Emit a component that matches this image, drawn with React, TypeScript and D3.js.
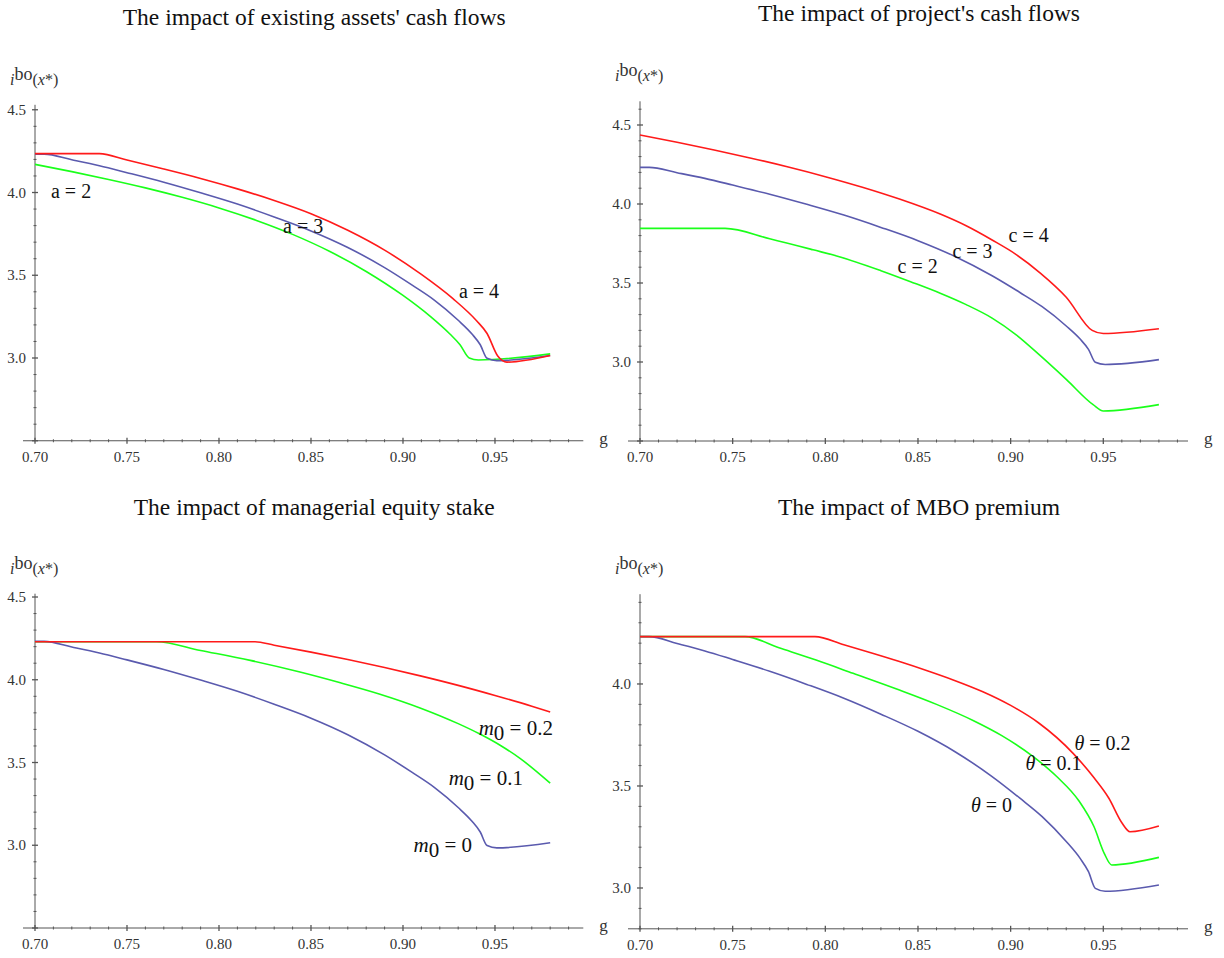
import React from "react";
import * as d3 from "d3";

type Pt = [number, number];

// ---------- data (g, i^bo(x*)) ----------
const G_TICKS = [0.7, 0.75, 0.8, 0.85, 0.9, 0.95];
const Y_TICKS_A = [3.0, 3.5, 4.0, 4.5];
const Y_TICKS_B = [3.0, 3.5, 4.0];

// baseline case (blue) shared by all four panels
const baseline: Pt[] = [
  [0.7, 4.232], [0.705, 4.232], [0.72, 4.198], [0.735, 4.162], [0.75, 4.12],
  [0.77, 4.062], [0.79, 3.998], [0.81, 3.93], [0.83, 3.852], [0.85, 3.768],
  [0.87, 3.668], [0.89, 3.546], [0.905, 3.44], [0.917, 3.35], [0.93, 3.228],
  [0.9375, 3.145], [0.942, 3.08], [0.9457, 2.998], [0.951, 2.984], [0.98, 3.015],
];

// panel 1: existing assets' cash flows
const a4: Pt[] = [
  [0.7, 4.235], [0.735, 4.235], [0.75, 4.196], [0.77, 4.142], [0.79, 4.085],
  [0.81, 4.022], [0.83, 3.952], [0.85, 3.872], [0.87, 3.772], [0.89, 3.652],
  [0.91, 3.505], [0.927, 3.36], [0.94, 3.225], [0.9457, 3.148], [0.9516, 3.01],
  [0.9565, 2.975], [0.98, 3.015],
];
const a2: Pt[] = [
  [0.7, 4.17], [0.72, 4.126], [0.74, 4.079], [0.76, 4.028], [0.78, 3.971],
  [0.8, 3.907], [0.82, 3.833], [0.84, 3.747], [0.86, 3.645], [0.88, 3.523],
  [0.9, 3.378], [0.915, 3.25], [0.9255, 3.145], [0.931, 3.08], [0.936, 3.0],
  [0.941, 2.988], [0.98, 3.025],
];

// panel 2: project's cash flows
const c4: Pt[] = [
  [0.7, 4.437], [0.72, 4.391], [0.74, 4.342], [0.76, 4.29], [0.78, 4.234],
  [0.8, 4.173], [0.82, 4.106], [0.84, 4.031], [0.862, 3.936], [0.876, 3.862],
  [0.89, 3.772], [0.903, 3.68], [0.916, 3.563], [0.93, 3.41], [0.944, 3.2],
  [0.95, 3.18], [0.98, 3.21],
];
const c2: Pt[] = [
  [0.7, 3.846], [0.7459, 3.846], [0.77, 3.78], [0.7934, 3.71], [0.808, 3.665],
  [0.83, 3.578], [0.846, 3.508], [0.862, 3.435], [0.876, 3.363], [0.89, 3.278],
  [0.903, 3.172], [0.916, 3.04], [0.93, 2.89], [0.9445, 2.73], [0.95, 2.69],
  [0.98, 2.73],
];

// panel 3: managerial equity stake
const m02: Pt[] = [
  [0.7, 4.23], [0.8196, 4.23], [0.83, 4.209], [0.85, 4.167], [0.87, 4.122],
  [0.89, 4.074], [0.91, 4.022], [0.93, 3.966], [0.95, 3.905], [0.97, 3.84],
  [0.98, 3.805],
];
const m01: Pt[] = [
  [0.7, 4.23], [0.766, 4.23], [0.79, 4.177], [0.817, 4.117], [0.844, 4.047],
  [0.865, 3.985], [0.8875, 3.913], [0.91, 3.827], [0.93, 3.735], [0.9418, 3.672],
  [0.953, 3.603], [0.9636, 3.525], [0.98, 3.375],
];

// panel 4: MBO premium
const th02: Pt[] = [
  [0.7, 4.232], [0.7944, 4.232], [0.81, 4.192], [0.825, 4.152], [0.84, 4.11],
  [0.855, 4.065], [0.869, 4.02], [0.885, 3.962], [0.9, 3.895], [0.915, 3.81],
  [0.9337, 3.66], [0.945, 3.54], [0.953, 3.44], [0.96, 3.32], [0.9644, 3.276],
  [0.98, 3.304],
];
const th01: Pt[] = [
  [0.7, 4.232], [0.7567, 4.232], [0.775, 4.177], [0.795, 4.117], [0.815, 4.052],
  [0.84, 3.97], [0.86, 3.9], [0.88, 3.82], [0.895, 3.748], [0.912, 3.645],
  [0.925, 3.545], [0.937, 3.425], [0.945, 3.3], [0.9505, 3.17], [0.9545, 3.113],
  [0.98, 3.15],
];

const RED = "#ff1a1a";
const GREEN = "#1aff1a";
const BLUE = "#5a5aae";

type Label = { g: number; v: number; anchor: "start" | "middle" | "end"; kind: "plain" | "m0" | "theta"; text: string };

type PanelDef = {
  title: string;
  left: number; right: number; top: number; bottom: number;
  xDomain: [number, number]; yDomain: [number, number];
  yTicks: number[];
  series: { data: Pt[]; color: string }[];
  labels: Label[];
};

const panels: PanelDef[] = [
  {
    title: "The impact of existing assets' cash flows",
    left: 35, right: 583.3, top: 104.8, bottom: 440.75,
    xDomain: [0.7, 0.998], yDomain: [2.5, 4.53], yTicks: Y_TICKS_A,
    series: [{ data: a2, color: GREEN }, { data: baseline, color: BLUE }, { data: a4, color: RED }],
    labels: [
      { g: 0.7196, v: 3.967, anchor: "middle", kind: "plain", text: "a = 2" },
      { g: 0.8457, v: 3.755, anchor: "middle", kind: "plain", text: "a = 3" },
      { g: 0.9413, v: 3.363, anchor: "middle", kind: "plain", text: "a = 4" },
    ],
  },
  {
    title: "The impact of project's cash flows",
    left: 640, right: 1188, top: 101.3, bottom: 441,
    xDomain: [0.7, 0.9957], yDomain: [2.5, 4.65], yTicks: Y_TICKS_A,
    series: [{ data: c2, color: GREEN }, { data: baseline, color: BLUE }, { data: c4, color: RED }],
    labels: [
      { g: 0.9097, v: 3.759, anchor: "middle", kind: "plain", text: "c = 4" },
      { g: 0.8794, v: 3.658, anchor: "middle", kind: "plain", text: "c = 3" },
      { g: 0.8498, v: 3.563, anchor: "middle", kind: "plain", text: "c = 2" },
    ],
  },
  {
    title: "The impact of managerial equity stake",
    left: 35, right: 583.3, top: 593.7, bottom: 928,
    xDomain: [0.7, 0.998], yDomain: [2.5, 4.52], yTicks: Y_TICKS_A,
    series: [{ data: m01, color: GREEN }, { data: baseline, color: BLUE }, { data: m02, color: RED }],
    labels: [
      { g: 0.9815, v: 3.665, anchor: "end", kind: "m0", text: "0.2" },
      { g: 0.9652, v: 3.363, anchor: "end", kind: "m0", text: "0.1" },
      { g: 0.9375, v: 2.958, anchor: "end", kind: "m0", text: "0" },
    ],
  },
  {
    title: "The impact of MBO premium",
    left: 640, right: 1188, top: 594.2, bottom: 928.8,
    xDomain: [0.7, 0.9957], yDomain: [2.8, 4.44], yTicks: Y_TICKS_B,
    series: [{ data: th01, color: GREEN }, { data: baseline, color: BLUE }, { data: th02, color: RED }],
    labels: [
      { g: 0.9496, v: 3.676, anchor: "middle", kind: "theta", text: "0.2" },
      { g: 0.9231, v: 3.578, anchor: "middle", kind: "theta", text: "0.1" },
      { g: 0.8897, v: 3.373, anchor: "middle", kind: "theta", text: "0" },
    ],
  },
];

const SERIF = "'Liberation Serif', 'Times New Roman', serif";
const AXIS = "#555";
const TXT = "#333";

function Panel({ p }: { p: PanelDef }) {
  const x = d3.scaleLinear().domain(p.xDomain).range([p.left, p.right]);
  const y = d3.scaleLinear().domain(p.yDomain).range([p.bottom, p.top]);
  const line = d3.line<Pt>().x((d) => x(d[0])).y((d) => y(d[1])).curve(d3.curveMonotoneX);

  const xMinor = d3.range(Math.ceil(p.xDomain[0] * 100 - 1e-6), Math.floor(p.xDomain[1] * 100 + 1e-6) + 1).map((i) => i / 100);
  const yMinor = d3.range(Math.ceil(p.yDomain[0] * 10 - 1e-6), Math.floor(p.yDomain[1] * 10 + 1e-6) + 1).map((i) => i / 10);
  const fx = d3.format(".2f");
  const fy = d3.format(".1f");
  const axY = p.bottom;
  const axX = p.left;

  return (
    <g>
      <text x={(p.left + p.right) / 2 + 5} y={p.top - 79 + (p.top > 300 ? 0 : -1)} textAnchor="middle"
        fontFamily={SERIF} fontSize={23.5} fill="#111">{p.title}</text>

      {/* y-axis label i^bo(x*) */}
      <text x={axX - 25} y={p.top - 20} fontFamily={SERIF} fill={TXT}>
        <tspan fontStyle="italic" fontSize={16}>i</tspan>
        <tspan fontSize={18} dy={-5}>bo</tspan>
        <tspan fontSize={16} dy={5}>(</tspan>
        <tspan fontSize={16} fontStyle="italic">x</tspan>
        <tspan fontSize={16}>*)</tspan>
      </text>

      {/* axes */}
      <line x1={axX - 12} x2={p.right} y1={axY} y2={axY} stroke={AXIS} strokeWidth={1} />
      <line x1={axX} x2={axX} y1={axY} y2={p.top} stroke={AXIS} strokeWidth={1} />

      {xMinor.map((g) => {
        const major = Math.abs(g * 20 - Math.round(g * 20)) < 1e-6;
        return <line key={"xm" + g} x1={x(g)} x2={x(g)} y1={axY - (major ? 3 : 1.5)} y2={axY + (major ? 3 : 1.5)} stroke={AXIS} strokeWidth={major ? 1.3 : 1} />;
      })}
      {yMinor.map((v) => {
        const major = Math.abs(v * 2 - Math.round(v * 2)) < 1e-6;
        return <line key={"ym" + v} x1={axX - (major ? 3 : 1.5)} x2={axX + (major ? 3 : 1.5)} y1={y(v)} y2={y(v)} stroke={AXIS} strokeWidth={major ? 1.3 : 1} />;
      })}

      {G_TICKS.map((g) => (
        <text key={"xl" + g} x={x(g)} y={axY + 21} textAnchor="middle" fontFamily={SERIF} fontSize={15} fill={TXT}>{fx(g)}</text>
      ))}
      {p.yTicks.map((v) => (
        <text key={"yl" + v} x={axX - 9} y={y(v) + 5} textAnchor="end" fontFamily={SERIF} fontSize={15} fill={TXT}>{fy(v)}</text>
      ))}
      <text x={p.right + 16} y={axY + 3} fontFamily={SERIF} fontSize={17} fill={TXT}>g</text>

      {p.series.map((s, i) => (
        <path key={i} d={line(s.data) || ""} fill="none" stroke={s.color} strokeWidth={1.6} strokeLinejoin="round" />
      ))}

      {p.labels.map((l, i) => {
        const lx = x(l.g);
        const ly = y(l.v);
        if (l.kind === "plain") {
          return <text key={i} x={lx} y={ly} textAnchor={l.anchor} fontFamily={SERIF} fontSize={20} fill="#111">{l.text}</text>;
        }
        if (l.kind === "theta") {
          return (
            <text key={i} x={lx} y={ly} textAnchor={l.anchor} fontFamily={SERIF} fontSize={20} fill="#111">
              <tspan fontStyle="italic">θ</tspan>
              <tspan>{" = " + l.text}</tspan>
            </text>
          );
        }
        return (
          <text key={i} x={lx} y={ly} textAnchor={l.anchor} fontFamily={SERIF} fontSize={21} fill="#111">
            <tspan fontStyle="italic">m</tspan>
            <tspan dy={5}>0</tspan>
            <tspan dy={-5}>{" = " + l.text}</tspan>
          </text>
        );
      })}
    </g>
  );
}

export default function App() {
  return (
    <svg width={1224} height={958} style={{ position: "absolute", left: 0, top: 0, background: "#fff" }}>
      <rect x={0} y={0} width={1224} height={958} fill="#fff" />
      {panels.map((p, i) => (
        <Panel key={i} p={p} />
      ))}
    </svg>
  );
}
